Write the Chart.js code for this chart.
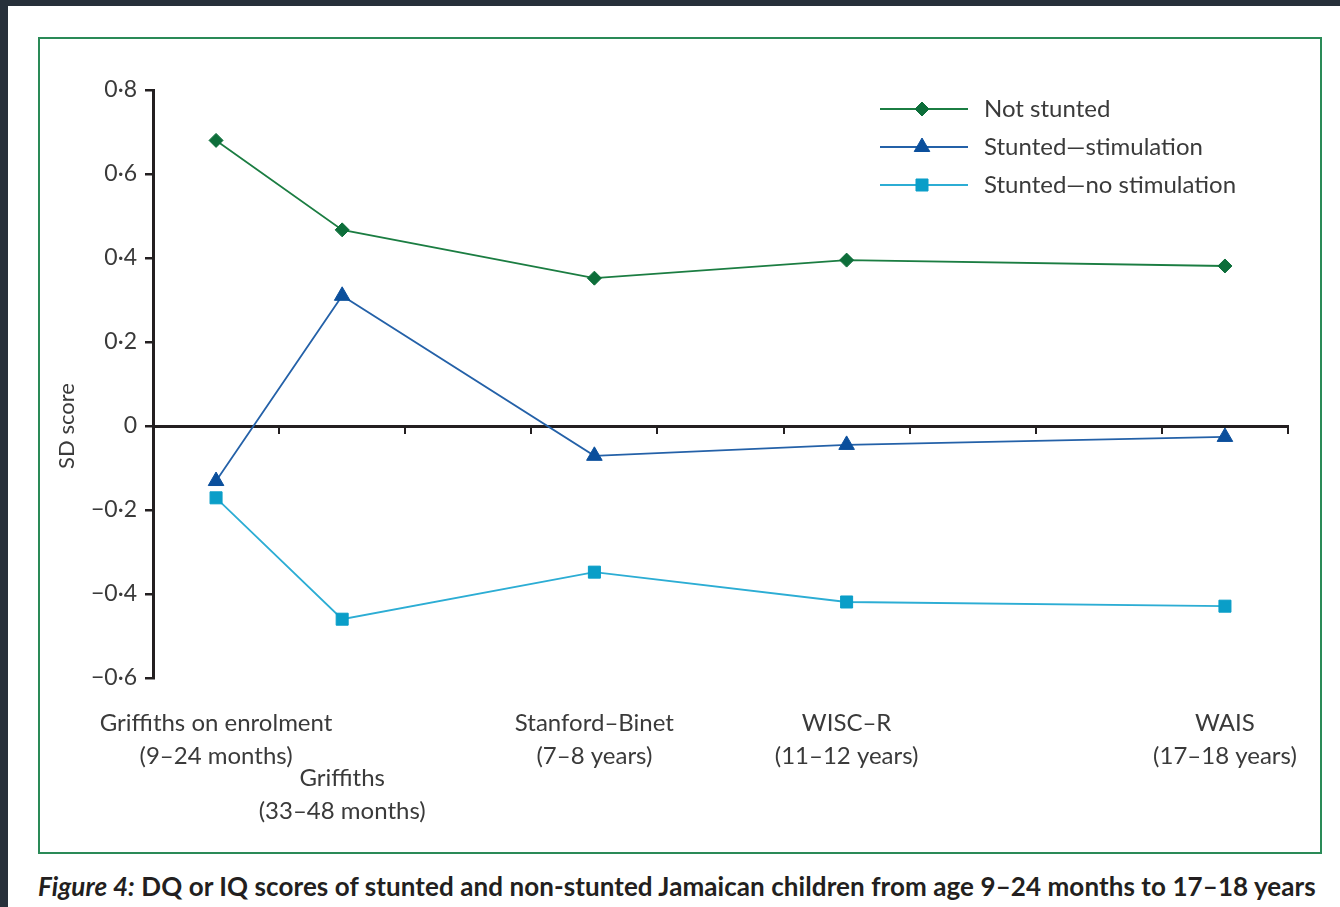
<!DOCTYPE html>
<html lang="en">
<head>
<meta charset="UTF-8">
<script src="https://cdn.jsdelivr.net/npm/chart.js"></script>
<title>DQ or IQ scores of stunted and non-stunted Jamaican children</title>
<style>
  html, body { margin: 0; padding: 0; }
  body { width: 1340px; height: 907px; background: #27303a; position: relative; overflow: hidden; font-family: Lato, sans-serif; }
  #page { position: absolute; left: 8px; top: 6px; right: 0; bottom: 0; background: #fff; }
  #frame { position: absolute; left: 30px; top: 31px; width: 1280px; height: 813px; border: 2px solid #2a8a57; }
  #frame canvas { position: absolute; left: 0; top: 0; }
  #caption { position: absolute; left: 30px; top: 865px; margin: 0; font-size: 26px; line-height: 30px; font-weight: 700; letter-spacing: 0.08px; color: #231f20; white-space: nowrap; }
  #caption em { font-style: italic; }
</style>
</head>
<body>
<div id="page">
  <div id="frame"><canvas id="myChart" width="1280" height="813"></canvas></div>
  <p id="caption"><em>Figure 4:</em> DQ or IQ scores of stunted and non-stunted Jamaican children from age 9–24 months to 17–18 years</p>
</div>
<script>
// assessments, placed at the middle of the 2-year age band they fall in
var ageMid = [1, 3, 7, 11, 17];
var tests = ['Griffiths on enrolment', 'Griffiths', 'Stanford–Binet', 'WISC–R', 'WAIS'];
var ages = ['(9–24 months)', '(33–48 months)', '(7–8 years)', '(11–12 years)', '(17–18 years)'];

var notStunted = [0.68, 0.467, 0.352, 0.395, 0.381];
var stuntedStim = [-0.131, 0.31, -0.071, -0.045, -0.026];
var stuntedNoStim = [-0.171, -0.46, -0.348, -0.419, -0.429];

var yTicks = [-0.6, -0.4, -0.2, 0, 0.2, 0.4, 0.6, 0.8];
var yTitle = 'SD score';
var ink = '#231f20';
var textColor = '#3a3a3a';

function points(values) {
    return ageMid.map(function (x, i) { return { x: x, y: values[i] }; });
}

function fmt(v) {
    if (v === 0) return '0';
    return (v < 0 ? '−' : '') + Math.abs(v).toFixed(1).replace('.', '·');
}

function series(label, values, line, marker, style, radius) {
    return {
        label: label,
        data: points(values),
        borderColor: line,
        borderWidth: 1.8,
        pointStyle: style,
        pointRadius: radius,
        pointBackgroundColor: marker,
        pointBorderColor: marker,
        pointBorderWidth: 1,
        tension: 0,
        clip: false
    };
}

// legend: short line with the marker in the middle, then the name
var legendPlugin = {
    id: 'lineLegend',
    afterDraw: function (chart) {
        var ctx = chart.ctx;
        ctx.save();
        ctx.font = '24px Lato';
        ctx.textBaseline = 'middle';
        chart.data.datasets.forEach(function (ds, i) {
            var y = 70 + i * 38;
            ctx.strokeStyle = ds.borderColor;
            ctx.lineWidth = ds.borderWidth;
            ctx.beginPath();
            ctx.moveTo(840, y);
            ctx.lineTo(928, y);
            ctx.stroke();
            ctx.fillStyle = ds.pointBackgroundColor;
            ctx.strokeStyle = ds.pointBorderColor;
            ctx.lineWidth = 1;
            Chart.helpers.drawPoint(ctx, { pointStyle: ds.pointStyle, radius: ds.pointRadius, rotation: 0, borderWidth: 1 }, 882, y);
            ctx.fillStyle = textColor;
            ctx.fillText(ds.label, 944, y);
        });
        ctx.restore();
    }
};

// test names under the plot, dropped a row when they would run into the previous one
var testLabels = {
    id: 'testLabels',
    afterDraw: function (chart) {
        var ctx = chart.ctx;
        var x = chart.scales.x;
        var top = chart.chartArea.bottom + 45;
        var lastRight = -Infinity;
        ctx.save();
        ctx.font = '24px Lato';
        ctx.fillStyle = textColor;
        ctx.textAlign = 'center';
        ctx.textBaseline = 'middle';
        for (var i = 0; i < tests.length; i++) {
            var cx = x.getPixelForValue(ageMid[i]);
            var w = Math.max(ctx.measureText(tests[i]).width, ctx.measureText(ages[i]).width);
            var y = top;
            if (cx - w / 2 < lastRight + 4) {
                y += 55;
            }
            ctx.fillText(tests[i], cx, y);
            ctx.fillText(ages[i], cx, y + 33);
            lastRight = cx + w / 2;
        }
        ctx.restore();
    }
};

// rotated y title, centred on the zero line
var yTitlePlugin = {
    id: 'yTitle',
    afterDraw: function (chart) {
        var ctx = chart.ctx;
        ctx.save();
        ctx.translate(27, chart.scales.y.getPixelForValue(0));
        ctx.rotate(-Math.PI / 2);
        ctx.font = '22px Lato';
        ctx.fillStyle = textColor;
        ctx.textAlign = 'center';
        ctx.textBaseline = 'middle';
        ctx.fillText(yTitle, 0, 0);
        ctx.restore();
    }
};

var ctx = document.getElementById('myChart').getContext('2d');
var myChart = new Chart(ctx, {
    type: 'line',
    data: {
        datasets: [
            series('Not stunted', notStunted, '#1b7d42', '#0d6e3a', 'rectRot', 7),
            series('Stunted—stimulation', stuntedStim, '#2461a8', '#0b4f9c', 'triangle', 9),
            series('Stunted—no stimulation', stuntedNoStim, '#2cadd4', '#0a9ec8', 'rect', 8.5)
        ]
    },
    options: {
        responsive: false,
        animation: false,
        layout: { padding: { top: 51, right: 32, bottom: 174, left: 0 } },
        plugins: { legend: { display: false }, tooltip: { enabled: false } },
        scales: {
            x: {
                type: 'linear',
                min: 0,
                max: 18,
                position: { y: 0 },
                ticks: { display: false, stepSize: 2 },
                grid: { drawOnChartArea: false, drawTicks: true, tickLength: 6, color: ink, lineWidth: 2 },
                border: { color: ink, width: 3 }
            },
            y: {
                min: -0.6,
                max: 0.8,
                afterBuildTicks: function (s) { s.ticks = yTicks.map(function (v) { return { value: v }; }); },
                afterFit: function (s) { s.width = 113; },
                ticks: { color: textColor, font: { family: 'Lato', size: 23 }, padding: 8, callback: fmt },
                grid: { drawOnChartArea: false, tickLength: 8, color: ink, lineWidth: 2.5 },
                border: { color: ink, width: 3 }
            }
        }
    },
    plugins: [legendPlugin, testLabels, yTitlePlugin]
});
</script>
</body>
</html>
